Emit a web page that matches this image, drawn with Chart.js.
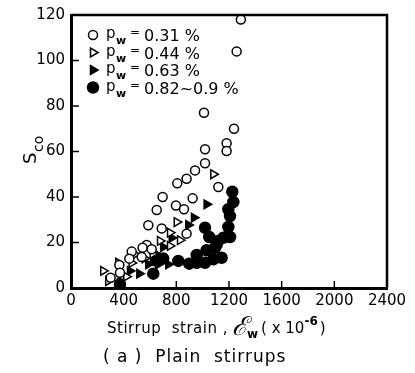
<!DOCTYPE html>
<html>
<head>
<meta charset="utf-8">
<script src="https://cdn.jsdelivr.net/npm/chart.js@4/dist/chart.umd.min.js"></script>
<style>
  html, body { margin: 0; padding: 0; background: #fff; }
  #wrap { width: 415px; height: 373px; }
</style>
</head>
<body>
<div id="wrap"><canvas id="myChart" width="415" height="373"></canvas></div>
<script>
// tick values
var xTicks = [0, 400, 800, 1200, 1600, 2000, 2400];
var yTicks = [0, 20, 40, 60, 80, 100, 120];

// pw = 0.31 %
var x031 = [1290, 1258, 1010, 1238, 1182, 1182, 1018, 1018, 942, 878, 807, 1119, 924, 696, 797, 858, 651, 587, 689, 878, 575, 544, 613, 461, 537, 443, 367, 301, 372];
var y031 = [118, 104, 77, 70, 63.6, 60.2, 61, 54.8, 51.7, 48, 46, 44.4, 39.4, 40, 36.3, 34.6, 34.3, 27.6, 26.2, 23.9, 18.9, 17.7, 17, 16, 13.6, 12.9, 10.1, 4.5, 6.7];
// pw = 0.44 %
var x044 = [1081, 803, 752, 828, 676, 245, 359, 283, 461, 486, 752, 620, 560, 420];
var y044 = [50, 29, 24.3, 21, 20.7, 7.5, 11.1, 3, 11, 14.8, 18.5, 15, 13, 5];
// pw = 0.63 %
var x063 = [1030, 934, 891, 739, 663, 519, 448, 372, 651, 587, 765, 700];
var y063 = [36.8, 30.9, 27.7, 10.4, 10.4, 6.3, 7.5, 2.3, 14.8, 10.4, 22, 18];
// pw = 0.82~0.9 %
var x082 = [1225, 1233, 1195, 1208, 1195, 1018, 1050, 1157, 1119, 1094, 1030, 1144, 1081, 955, 955, 898, 1018, 815, 625, 372, 1107, 1208, 645, 700];
var y082 = [42.3, 37.8, 34.6, 31.6, 26.8, 26.5, 22.4, 22.1, 20.7, 17.7, 16.6, 13.3, 12.6, 14.5, 11.1, 10.7, 11.1, 11.9, 6.3, 1.6, 19.2, 22.4, 12, 13];

var legendLabels = ["0.31 %", "0.44 %", "0.63 %", "0.82~0.9 %"];

function pts(xs, ys) {
  return xs.map(function (x, i) { return { x: x, y: ys[i] }; });
}

var FONT = "'DejaVu Sans', sans-serif";

var series = [
  { data: pts(x031, y031), pointStyle: "circle", rot: 0, fill: "#fff", r: 4.5 },
  { data: pts(x044, y044), pointStyle: "triangle", rot: 90, fill: "#fff", r: 5 },
  { data: pts(x063, y063), pointStyle: "triangle", rot: 90, fill: "#000", r: 5 },
  { data: pts(x082, y082), pointStyle: "circle", rot: 0, fill: "#000", r: 5.5 },
];

// inward ticks, top/right frame, legend and titles
var decor = {
  id: "decor",
  afterDraw: function (chart) {
    var c = chart.ctx, a = chart.chartArea;
    var xs = chart.scales.x, ys = chart.scales.y;
    c.save();
    c.strokeStyle = "#000";
    c.lineWidth = 1.5;
    xTicks.forEach(function (v) {
      var px = xs.getPixelForValue(v);
      c.beginPath(); c.moveTo(px, a.bottom); c.lineTo(px, a.bottom - 7); c.stroke();
    });
    yTicks.forEach(function (v) {
      var py = ys.getPixelForValue(v);
      c.beginPath(); c.moveTo(a.left, py); c.lineTo(a.left + 8, py); c.stroke();
    });
    c.lineWidth = 2.5;
    c.beginPath();
    c.moveTo(a.left, a.top); c.lineTo(a.right, a.top); c.lineTo(a.right, a.bottom);
    c.stroke();

    // legend
    c.fillStyle = "#000";
    c.textBaseline = "alphabetic";
    legendLabels.forEach(function (lab, i) {
      var s = series[i];
      var yy = a.top + 20 + i * 17.5;
      c.lineWidth = 1.5;
      c.fillStyle = s.fill;
      Chart.helpers.drawPoint(c, { pointStyle: s.pointStyle, rotation: s.rot, radius: s.r, borderWidth: 1.5 }, a.left + 22, yy);
      c.fillStyle = "#000";
      c.font = "15px " + FONT;
      c.fillText("p", a.left + 35, yy + 3);
      c.font = "bold 11px " + FONT;
      c.fillText("w", a.left + 45, yy + 9);
      c.font = "12px " + FONT;
      c.fillText("=", a.left + 59, yy + 1);
      c.font = "16px " + FONT;
      c.fillText(lab, a.left + 73, yy + 6);
    });

    // y title
    c.save();
    c.translate(36, 154);
    c.rotate(-Math.PI / 2);
    c.font = "18px " + FONT;
    c.fillText("S", -10, 0);
    c.font = "14px " + FONT;
    c.fillText("co", 2, 7);
    c.restore();

    // x title
    var x0 = 107, by = 333;
    c.font = "15px " + FONT;
    c.letterSpacing = "0.5px";
    c.fillText("Stirrup  strain ,", x0, by);
    var w = c.measureText("Stirrup  strain ,").width;
    c.letterSpacing = "0px";
    c.font = "italic 26px 'DejaVu Serif', serif";
    var xx = x0 + w + 4;
    c.fillText("\u2130", xx, by + 2);
    xx += c.measureText("\u2130").width - 1;
    c.font = "bold 12px " + FONT;
    c.fillText("w", xx, by + 5);
    xx += c.measureText("w").width + 3;
    c.font = "15px " + FONT;
    c.fillText("( x 10", xx, by);
    xx += c.measureText("( x 10").width;
    c.font = "bold 12px " + FONT;
    c.fillText("-6", xx, by - 8);
    xx += c.measureText("-6").width + 2;
    c.font = "15px " + FONT;
    c.fillText(")", xx, by);

    // caption
    c.font = "17px " + FONT;
    c.letterSpacing = "1px";
    c.fillText("( a )  Plain  stirrups", 103, 362);
    c.restore();
  },
};

var ctx = document.getElementById("myChart").getContext("2d");
var myChart = new Chart(ctx, {
  type: "scatter",
  data: {
    datasets: series.map(function (s, i) {
      return {
        label: legendLabels[i],
        data: s.data,
        pointStyle: s.pointStyle,
        pointRotation: s.rot,
        pointRadius: s.r,
        backgroundColor: s.fill,
        borderColor: "#000",
        borderWidth: 1.5,
      };
    }),
  },
  options: {
    responsive: false,
    animation: false,
    layout: { padding: { top: 13, right: 28, left: 0, bottom: 0 } },
    plugins: { legend: { display: false }, tooltip: { enabled: false } },
    scales: {
      x: {
        type: "linear",
        min: 0,
        max: 2400,
        afterBuildTicks: function (s) { s.ticks = xTicks.map(function (v) { return { value: v }; }); },
        afterFit: function (s) { s.height = 85; },
        grid: { display: false, drawTicks: false },
        border: { display: true, color: "#000", width: 3 },
        ticks: {
          color: "#000", padding: 4, maxRotation: 0, autoSkip: false,
          font: { family: FONT, size: 15 },
          callback: function (v) { return String(v); },
        },
      },
      y: {
        type: "linear",
        min: 0,
        max: 120,
        afterBuildTicks: function (s) { s.ticks = yTicks.map(function (v) { return { value: v }; }); },
        afterFit: function (s) { s.width = 71; },
        grid: { display: false, drawTicks: false },
        border: { display: true, color: "#000", width: 3 },
        ticks: { color: "#000", padding: 6, font: { family: FONT, size: 15 } },
      },
    },
  },
  plugins: [decor],
});
</script>
</body>
</html>
